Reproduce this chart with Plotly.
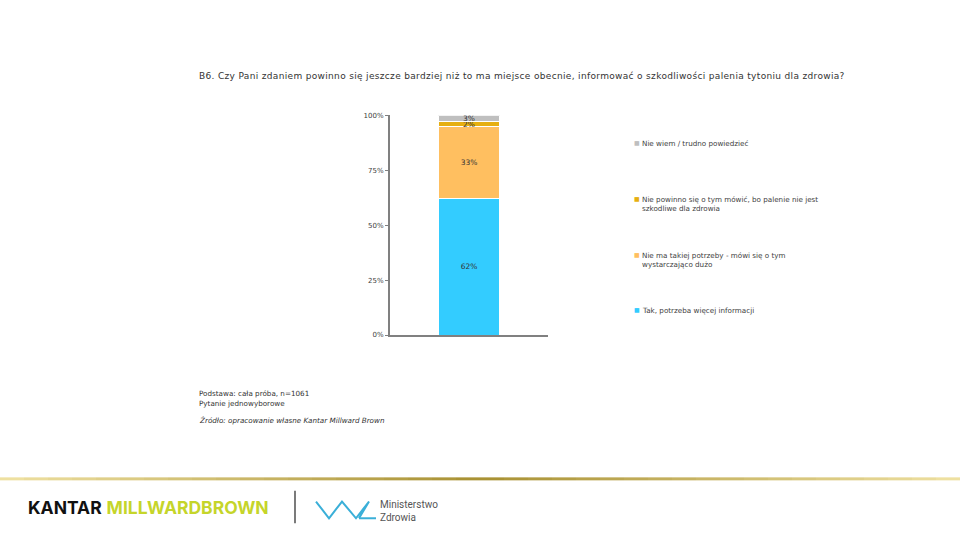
import plotly.graph_objects as go

categories = [""]
series_names = [
    "Tak, potrzeba więcej informacji",
    "Nie ma takiej potrzeby - mówi się o tym<br>wystarczająco dużo",
    "Nie powinno się o tym mówić, bo palenie nie jest<br>szkodliwe dla zdrowia",
    "Nie wiem / trudno powiedzieć",
]
series_values = [[62], [33], [2], [3]]
series_colors = ["#33CCFF", "#FFBF60", "#E6AF10", "#BFBFBF"]
tick_vals = [0, 25, 50, 75, 100]
tick_text = ["0%", "25%", "50%", "75%", "100%"]
legend_rows_px = [310, 254, 197, 141]  # legend row (first line) positions, per series

W, H = 960, 540
FONT = "DejaVu Sans"
TXT = "#404040"


def sp(text, ls):
    return f"<span style='letter-spacing:{ls}px'>{text}</span>"


fig = go.Figure()
for i, (name, vals, col) in enumerate(zip(series_names, series_values, series_colors)):
    fig.add_trace(go.Bar(
        x=categories, y=vals, name=name, showlegend=False,
        marker=dict(color=col, line=dict(color="white", width=1)),
        text=[f"{v}%" for v in vals], textposition="inside", insidetextanchor="middle",
        constraintext="none", textfont=dict(size=7.5, color="#333333", family=FONT),
        width=0.39, hoverinfo="skip",
    ))

fig.update_layout(
    width=W, height=H, barmode="stack", paper_bgcolor="white", plot_bgcolor="white",
    margin=dict(l=0, r=0, t=0, b=0), showlegend=False,
    font=dict(family=FONT, size=8, color=TXT),
    xaxis=dict(domain=[390 / W, 548 / W], range=[-0.5, 0.5], showline=True, linecolor="#808080",
               linewidth=2, showticklabels=False, ticks="", showgrid=False, zeroline=False, fixedrange=True),
    yaxis=dict(domain=[1 - 336 / H, 1 - 113 / H], range=[0, 100], tickvals=tick_vals, ticktext=tick_text,
               showline=True, linecolor="#808080", linewidth=2, ticks="outside", ticklen=3,
               tickcolor="#808080", showgrid=False, zeroline=False, fixedrange=True,
               tickfont=dict(size=7, color=TXT, family=FONT)),
)

ann = []
ann.append(dict(x=197 / W, y=1 - 73 / H, xref="paper", yref="paper", xanchor="left", yanchor="middle",
                text=sp("B6. Czy Pani zdaniem powinno się jeszcze bardziej niż to ma miejsce obecnie, informować o szkodliwości palenia tytoniu dla zdrowia?", 0.33),
                showarrow=False, font=dict(size=9, color="#333333")))
for yy, txt in [(395, "Podstawa: cała próba, n=1061"), (405, "Pytanie jednowyborowe"),
                (423, "<i>Źródło: opracowanie własne Kantar Millward Brown</i>")]:
    ann.append(dict(x=197 / W, y=1 - yy / H, xref="paper", yref="paper", xanchor="left", yanchor="middle",
                    text=txt, showarrow=False, font=dict(size=7.2, color="#333333")))
# legend (marker + hanging-indent text)
for name, col, ypx in zip(series_names, series_colors, legend_rows_px):
    ann.append(dict(x=632 / W, y=1 - ypx / H, xref="paper", yref="paper", xanchor="left", yanchor="middle",
                    text="■", showarrow=False, font=dict(size=6, color=col)))
    ann.append(dict(x=640 / W, y=1 - (ypx - 5.5) / H, xref="paper", yref="paper", xanchor="left", yanchor="top",
                    text=name, align="left",
                    showarrow=False, font=dict(size=7.2, color=TXT)))
ann.append(dict(x=26 / W, y=1 - 511 / H, xref="paper", yref="paper", xanchor="left", yanchor="middle",
                text="<b>KANTAR</b> <b><span style='color:#C5D52A'>MILLWARDBROWN</span></b>",
                showarrow=False, font=dict(size=17.5, color="#111111", family="Inter")))
ann.append(dict(x=378 / W, y=1 - 515 / H, xref="paper", yref="paper", xanchor="left", yanchor="middle",
                text="Ministerstwo<br>Zdrowia", align="left",
                showarrow=False, font=dict(size=10, color="#555555", family="Roboto")))
fig.update_layout(annotations=ann)

shapes = []
n = 40
for k in range(n):
    t = k / (n - 1)
    d = 1 - abs(t - 0.5) * 2
    r = int(238 - 70 * d); g = int(224 - 80 * d); b = int(160 - 110 * d)
    shapes.append(dict(type="line", xref="paper", yref="paper", x0=k / n, x1=(k + 1) / n,
                       y0=1 - 482 / H, y1=1 - 482 / H, line=dict(color=f"rgb({r},{g},{b})", width=3)))
shapes.append(dict(type="line", xref="paper", yref="paper", x0=295 / W, x1=295 / W,
                   y0=1 - 494 / H, y1=1 - 527 / H, line=dict(color="#222222", width=1.2)))
pts = [(316, 505), (329, 522), (342, 505), (356, 522), (369, 505), (359, 522)]
path = "M " + " L ".join(f"{x / W},{1 - y / H}" for x, y in pts)
shapes.append(dict(type="path", xref="paper", yref="paper", path=path,
                   line=dict(color="#3AAFD8", width=2)))
shapes.append(dict(type="line", xref="paper", yref="paper", x0=359 / W, x1=376 / W,
                   y0=1 - 522 / H, y1=1 - 522 / H, line=dict(color="#3AAFD8", width=2)))
fig.update_layout(shapes=shapes)

fig.write_html("out.html", config={"displayModeBar": False, "staticPlot": True},
               post_script="document.body.style.margin='0';document.body.style.overflow='hidden';")
